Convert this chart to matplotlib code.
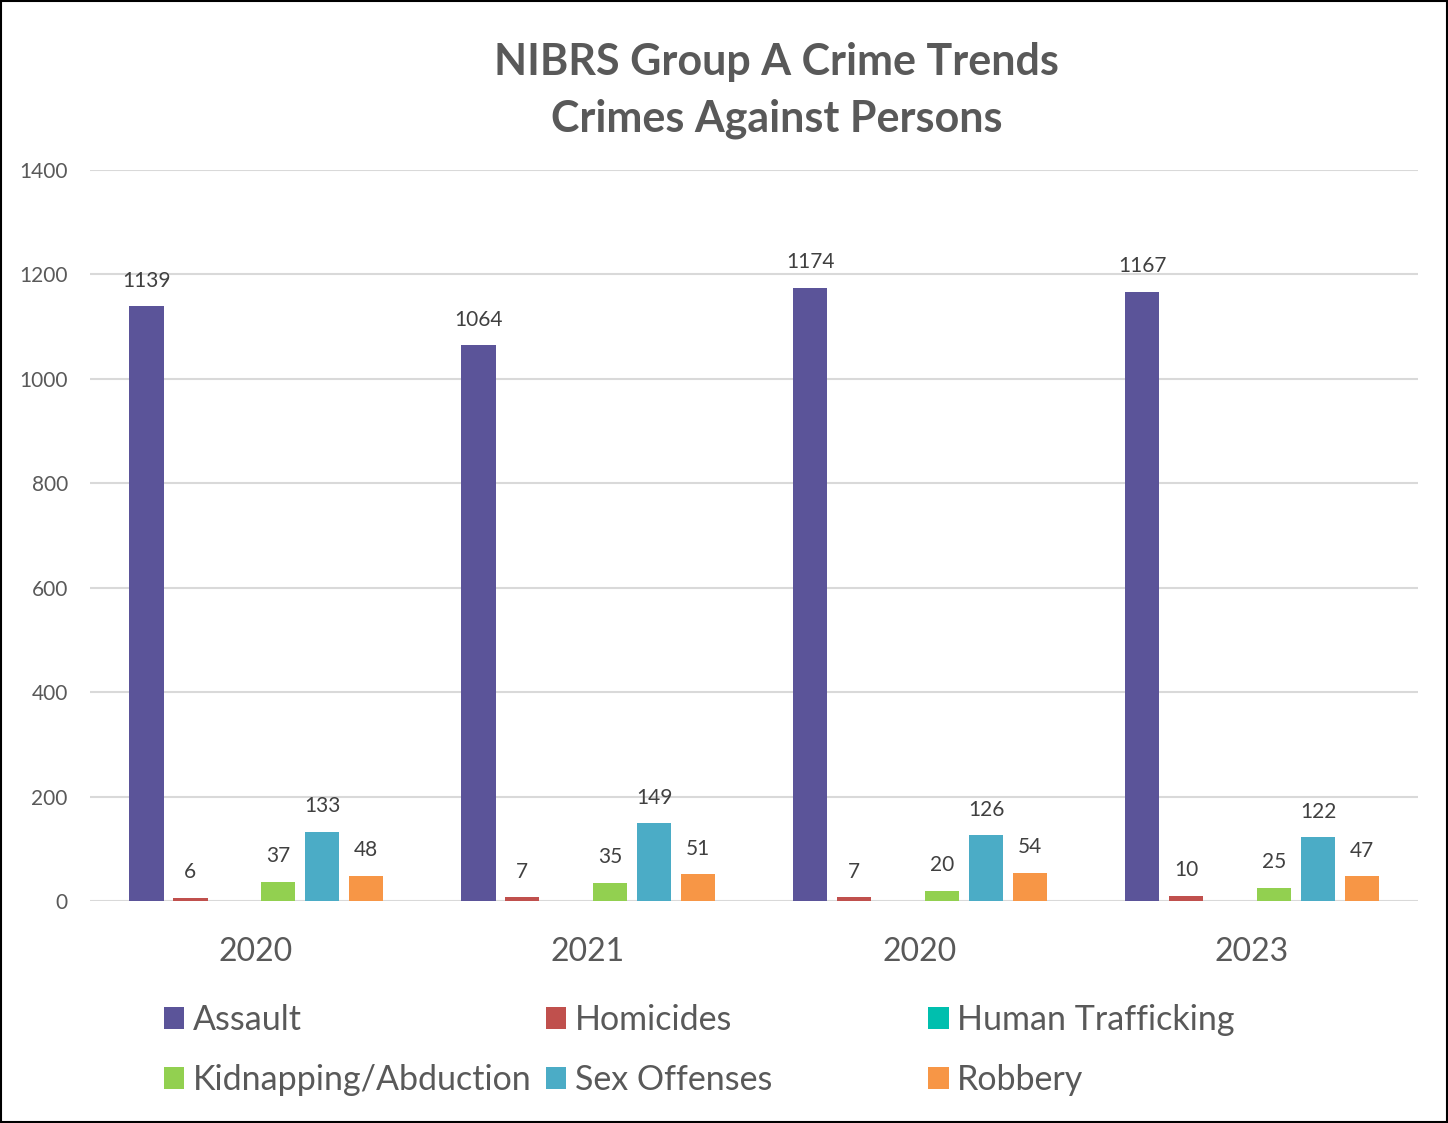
import matplotlib.pyplot as plt
import numpy as np
from matplotlib.patches import Rectangle

plt.rcParams['font.family'] = ['Lato', 'DejaVu Sans']

years = ['2020', '2021', '2020', '2023']
series = ['Assault', 'Homicides', 'Human Trafficking',
          'Kidnapping/Abduction', 'Sex Offenses', 'Robbery']
assault = [1139, 1064, 1174, 1167]
homicides = [6, 7, 7, 10]
human_trafficking = [0, 0, 0, 0]
kidnapping = [37, 35, 20, 25]
sex_offenses = [133, 149, 126, 122]
robbery = [48, 51, 54, 47]
values = [assault, homicides, human_trafficking, kidnapping, sex_offenses, robbery]
colors = ['#5B5499', '#C0504D', '#00BFAE', '#92D050', '#4BACC6', '#F79646']
show_labels = [True, True, False, True, True, True]

text_col = '#595959'

fig = plt.figure(figsize=(14.48, 11.23), dpi=100)
ax = fig.add_axes([0.0622, 0.1977, 0.9171, 0.6509])

x = np.arange(len(years))
step = 0.1325
width = 0.105
handles = []
for i, (name, vals, c, lab) in enumerate(zip(series, values, colors, show_labels)):
    pos = x + (i - 2.5) * step
    bars = ax.bar(pos, vals, width=width, color=c, label=name, zorder=3)
    handles.append(bars)
    if lab:
        for p, v in zip(pos, vals):
            ax.text(p, v + 30, str(v), ha='center', va='bottom',
                    fontsize=15, color='#404040')

ax.set_xlim(-0.5, 3.5)
ax.set_ylim(0, 1400)
ax.set_yticks(range(0, 1401, 200))
ax.set_xticks(x)
ax.set_xticklabels(years, fontsize=23, color=text_col)
ax.tick_params(axis='y', labelsize=15, labelcolor=text_col, length=0, pad=16)
ax.tick_params(axis='x', length=0, pad=26)
ax.yaxis.grid(True, color='#D9D9D9', linewidth=1.5, zorder=0)
ax.set_axisbelow(True)
for s in ax.spines.values():
    s.set_visible(False)

fig.text(0.5365, 0.963, 'NIBRS Group A Crime Trends\nCrimes Against Persons',
         ha='center', va='top', fontsize=31, fontweight='bold', color=text_col,
         linespacing=1.52)

# legend: three fixed columns, two rows each
col_x = [0.113, 0.377, 0.641]
for c in range(3):
    idx = [c, c + 3]
    fig.legend([handles[k] for k in idx], [series[k] for k in idx],
               loc='upper left', bbox_to_anchor=(col_x[c], 0.106),
               frameon=False, fontsize=24.5, labelcolor=text_col,
               handlelength=0.6, handleheight=0.6, handletextpad=0.25,
               labelspacing=0.82, borderaxespad=0, borderpad=0)

fig.add_artist(Rectangle((0.001, 0.001), 0.998, 0.998, transform=fig.transFigure,
                         fill=False, edgecolor='black', linewidth=1.5))

fig.savefig('out.png', dpi=100)
